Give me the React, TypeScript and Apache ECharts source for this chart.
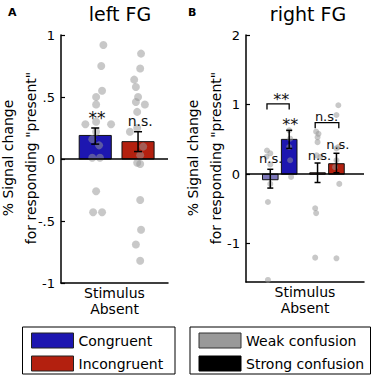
import React, { useEffect, useRef } from "react";
import * as echarts from "echarts";

// ---------- data ----------
// Panel A (left FG): Stimulus Absent, Congruent vs Incongruent
const aCategories = ["Congruent", "Incongruent"];
const aX = [0, 1];
const aMeans = [0.19, 0.14];
const aErrLow = [0.12, 0.06];
const aErrHigh = [0.25, 0.22];
// subject dots: [x jitter, value]
const aCongruentDots = [
  [0.19, 0.92], [0.14, 0.75], [0.16, 0.55], [0.02, 0.5], [0.02, 0.44],
  [-0.23, 0.28], [0.02, 0.3], [0.37, 0.28], [0.02, 0.22], [-0.07, 0.16],
  [0.09, 0.11], [-0.07, 0.01], [0.11, 0.01], [0.02, -0.26], [-0.05, -0.43], [0.16, -0.43],
];
const aIncongruentDots = [
  [0.07, 0.85], [0.05, 0.73], [-0.09, 0.64], [-0.05, 0.58], [0.0, 0.5],
  [-0.05, 0.46], [0.16, 0.44], [-0.02, 0.38], [-0.02, 0.25], [-0.19, 0.22],
  [0.12, 0.1], [0.05, 0.03], [-0.02, -0.03], [0.05, -0.04], [0.05, -0.33],
  [0.07, -0.57], [-0.05, -0.69], [0.05, -0.82],
];
const aAnnotations = [
  { x: 0.04, y: 0.33, text: "**" },
  { x: 1.05, y: 0.31, text: "n.s." },
];

// Panel B (right FG): weak / strong confusion for congruent and incongruent
const bCategories = ["Congruent weak", "Congruent strong", "Incongruent weak", "Incongruent strong"];
const bX = [-0.2, 0.2, 0.8, 1.2];
const bMeans = [-0.08, 0.5, 0.02, 0.15];
const bErrLow = [-0.2, 0.37, -0.12, 0.02];
const bErrHigh = [0.07, 0.63, 0.16, 0.3];
const bDots = [
  [[-0.07, 0.34], [0.0, 0.3], [-0.08, 0.25], [0.0, 0.14], [0.0, -0.14], [-0.05, -0.4], [-0.05, -1.52]],
  [[0.0, 2.01], [0.0, 0.63], [0.02, 0.51], [0.0, 0.39], [0.02, 0.2], [0.04, -0.04]],
  [[-0.03, 0.61], [0.02, 0.58], [0.0, 0.53], [0.0, 0.46], [-0.02, 0.27], [0.06, 0.25], [-0.05, -0.49], [-0.03, -0.56], [-0.05, -1.2]],
  [[0.04, 0.99], [0.0, 0.85], [0.04, 0.39], [0.0, 0.37], [0.0, 0.2], [-0.03, 0.1], [0.06, -0.14], [0.0, -1.21]],
];
const bAnnotations = [
  { x: 0.03, y: 1.07, text: "**" },
  { x: 0.22, y: 0.72, text: "**" },
  { x: -0.19, y: 0.23, text: "n.s." },
  { x: 0.99, y: 0.83, text: "n.s." },
  { x: 0.84, y: 0.27, text: "n.s." },
  { x: 1.23, y: 0.43, text: "n.s." },
];
const bBrackets = [
  { x1: -0.27, x2: 0.2, top: 1.01, leg: 0.93 },
  { x1: 0.75, x2: 1.25, top: 0.74, leg: 0.66 },
];

const yTicksA = [-1, -0.5, 0, 0.5, 1];
const yTicksB = [-1, 0, 1, 2];

const legendLeft = ["Congruent", "Incongruent"];
const legendRight = ["Weak confusion", "Strong confusion"];

// ---------- styles ----------
const FONT = "DejaVu Sans";
const aColors = ["#1d16b0", "#b3200f"];
const bColors = ["#7c77b8", "#1d16b0", "#d4857a", "#b3200f"];
const dotColor = "rgba(150,150,150,0.65)";

const fmt = (v: number) => (v === 0 ? "0" : String(v).replace("0.", "."));

function barSeries(xIdx: number, xs: number[], means: number[], colors: string[], barW: number) {
  return {
    type: "custom",
    xAxisIndex: xIdx,
    yAxisIndex: xIdx,
    z: 2,
    data: xs.map((x, i) => [x, means[i]]),
    renderItem: (params: any, api: any) => {
      const x = api.value(0);
      const m = api.value(1);
      const p0 = api.coord([x, 0]);
      const p1 = api.coord([x, m]);
      const w = api.size([barW, 0])[0];
      return {
        type: "rect",
        shape: { x: p0[0] - w / 2, y: Math.min(p0[1], p1[1]), width: w, height: Math.abs(p1[1] - p0[1]) },
        style: { fill: colors[params.dataIndex], stroke: "#111", lineWidth: 1 },
      };
    },
  };
}

function errSeries(xIdx: number, xs: number[], lo: number[], hi: number[], capPx: number) {
  return {
    type: "custom",
    xAxisIndex: xIdx,
    yAxisIndex: xIdx,
    z: 4,
    data: xs.map((x, i) => [x, lo[i], hi[i]]),
    renderItem: (params: any, api: any) => {
      const x = api.value(0);
      const pl = api.coord([x, api.value(1)]);
      const ph = api.coord([x, api.value(2)]);
      const st = { stroke: "#000", lineWidth: 1.5 };
      return {
        type: "group",
        children: [
          { type: "line", shape: { x1: pl[0], y1: pl[1], x2: ph[0], y2: ph[1] }, style: st },
          { type: "line", shape: { x1: pl[0] - capPx, y1: pl[1], x2: pl[0] + capPx, y2: pl[1] }, style: st },
          { type: "line", shape: { x1: ph[0] - capPx, y1: ph[1], x2: ph[0] + capPx, y2: ph[1] }, style: st },
        ],
      };
    },
  };
}

function dotSeries(xIdx: number, center: number, dots: number[][], size: number, zeroLine: boolean) {
  const s: any = {
    type: "scatter",
    xAxisIndex: xIdx,
    yAxisIndex: xIdx,
    z: 3,
    symbolSize: size,
    itemStyle: { color: dotColor },
    data: dots.map((d) => [center + d[0], d[1]]),
  };
  if (zeroLine) {
    s.markLine = {
      silent: true,
      symbol: "none",
      label: { show: false },
      lineStyle: { color: "#000", width: 1.5, type: "solid" },
      data: [{ yAxis: 0 }],
    };
  }
  return s;
}

function annSeries(xIdx: number, anns: { x: number; y: number; text: string }[], fontSize: number, starSize: number) {
  return {
    type: "custom",
    xAxisIndex: xIdx,
    yAxisIndex: xIdx,
    z: 5,
    data: anns.map((a) => [a.x, a.y]),
    renderItem: (params: any, api: any) => {
      const p = api.coord([api.value(0), api.value(1)]);
      const t = anns[params.dataIndex].text;
      return {
        type: "text",
        x: p[0],
        y: p[1],
        style: {
          text: t,
          align: "center",
          verticalAlign: "middle",
          fontSize: t === "**" ? starSize : fontSize,
          fontFamily: FONT,
          fill: "#111",
        },
      };
    },
  };
}

function bracketSeries(xIdx: number, brs: { x1: number; x2: number; top: number; leg: number }[]) {
  return {
    type: "custom",
    xAxisIndex: xIdx,
    yAxisIndex: xIdx,
    z: 5,
    data: brs.map((b) => [b.x1, b.x2, b.top, b.leg]),
    renderItem: (params: any, api: any) => {
      const x1 = api.value(0), x2 = api.value(1), top = api.value(2), leg = api.value(3);
      return {
        type: "polyline",
        shape: { points: [api.coord([x1, leg]), api.coord([x1, top]), api.coord([x2, top]), api.coord([x2, leg])] },
        style: { stroke: "#000", lineWidth: 1.3, fill: null },
      };
    },
  };
}

function yAxisBase(min: number, max: number) {
  return {
    type: "value",
    min,
    max,
    axisLine: { show: true, onZero: false, lineStyle: { color: "#000", width: 1.5 } },
    axisTick: { show: true, inside: true, length: 4, lineStyle: { color: "#000", width: 1.2 } },
    axisLabel: { color: "#000", fontSize: 13, fontFamily: FONT, margin: 6, formatter: fmt },
    splitLine: { show: false },
  };
}

function xAxisBase(gridIndex: number, min: number, max: number) {
  return {
    type: "value",
    gridIndex,
    min,
    max,
    name: "Stimulus\nAbsent",
    nameLocation: "middle",
    nameGap: 2,
    nameTextStyle: { color: "#000", fontSize: 14, lineHeight: 16, fontFamily: FONT, verticalAlign: "top" },
    axisLine: { show: true, onZero: false, lineStyle: { color: "#000", width: 1.5 } },
    axisTick: { show: false },
    axisLabel: { show: false },
    splitLine: { show: false },
  };
}

function legendBox(x: number, y: number, w: number, h: number, labels: string[], colors: string[], strokes: string[]) {
  const children: any[] = [
    { type: "rect", shape: { x, y, width: w, height: h }, style: { fill: "#fff", stroke: "#000", lineWidth: 1 } },
  ];
  labels.forEach((lab, i) => {
    const sy = y + 6 + i * 23;
    children.push({
      type: "rect",
      shape: { x: x + 9, y: sy, width: 42, height: 15 },
      style: { fill: colors[i], stroke: strokes[i], lineWidth: 1 },
    });
    children.push({
      type: "text",
      x: x + 56,
      y: sy + 7.5,
      style: { text: lab, fontSize: 14, fontFamily: FONT, fill: "#000", verticalAlign: "middle", align: "left" },
    });
  });
  return { type: "group", children };
}

export default function App() {
  const ref = useRef<HTMLDivElement>(null);
  useEffect(() => {
    if (!ref.current) return;
    const chart = echarts.init(ref.current, null, { renderer: "svg" });
    const yA: any = { ...yAxisBase(-1, 1), gridIndex: 0, interval: 0.5 };
    const yB: any = {
      ...yAxisBase(-1.55, 2),
      gridIndex: 1,
      axisTick: { show: true, inside: true, length: 4, lineStyle: { color: "#000", width: 1.2 }, customValues: yTicksB },
      axisLabel: { color: "#000", fontSize: 13, fontFamily: FONT, margin: 6, formatter: fmt, customValues: yTicksB },
    };
    const option: any = {
      animation: false,
      backgroundColor: "#fff",
      textStyle: { fontFamily: FONT },
      grid: [
        { left: 61, top: 35, width: 107, height: 248, outerBoundsMode: "none" },
        { left: 246, top: 35, width: 118, height: 247, outerBoundsMode: "none" },
      ],
      xAxis: [xAxisBase(0, -0.8, 1.7), xAxisBase(1, -0.714, 1.783)],
      yAxis: [yA, yB],
      series: [
        barSeries(0, aX, aMeans, aColors, 0.75),
        dotSeries(0, aX[0], aCongruentDots, 8, true),
        dotSeries(0, aX[1], aIncongruentDots, 8, false),
        errSeries(0, aX, aErrLow, aErrHigh, 4),
        annSeries(0, aAnnotations, 14, 17),
        barSeries(1, bX, bMeans, bColors, 0.33),
        dotSeries(1, bX[0], bDots[0], 6, true),
        dotSeries(1, bX[1], bDots[1], 6, false),
        dotSeries(1, bX[2], bDots[2], 6, false),
        dotSeries(1, bX[3], bDots[3], 6, false),
        errSeries(1, bX, bErrLow, bErrHigh, 3),
        bracketSeries(1, bBrackets),
        annSeries(1, bAnnotations, 13, 16),
      ],
      graphic: [
        { type: "text", x: 8, y: 12, style: { text: "A", fontSize: 11, fontWeight: "bold", fontFamily: FONT, fill: "#000", verticalAlign: "middle" } },
        { type: "text", x: 188, y: 12, style: { text: "B", fontSize: 11, fontWeight: "bold", fontFamily: FONT, fill: "#000", verticalAlign: "middle" } },
        { type: "text", x: 120, y: 14, style: { text: "left FG", fontSize: 19, fontFamily: FONT, fill: "#000", align: "center", verticalAlign: "middle" } },
        { type: "text", x: 308, y: 14, style: { text: "right FG", fontSize: 19, fontFamily: FONT, fill: "#000", align: "center", verticalAlign: "middle" } },
        { type: "text", x: 8, y: 158, rotation: Math.PI / 2, style: { text: "% Signal change", fontSize: 14, fontFamily: FONT, fill: "#000", align: "center", verticalAlign: "middle" } },
        { type: "text", x: 31, y: 158, rotation: Math.PI / 2, style: { text: 'for responding "present"', fontSize: 14, fontFamily: FONT, fill: "#000", align: "center", verticalAlign: "middle" } },
        { type: "text", x: 192.5, y: 158, rotation: Math.PI / 2, style: { text: "% Signal change", fontSize: 14, fontFamily: FONT, fill: "#000", align: "center", verticalAlign: "middle" } },
        { type: "text", x: 216, y: 158, rotation: Math.PI / 2, style: { text: 'for responding "present"', fontSize: 14, fontFamily: FONT, fill: "#000", align: "center", verticalAlign: "middle" } },
        legendBox(22.5, 327, 152.5, 47, legendLeft, aColors, ["#222", "#222"]),
        legendBox(190, 327, 180.5, 47, legendRight, ["#999999", "#000000"], ["#333", "#000"]),
      ],
    };
    chart.setOption(option);
    return () => chart.dispose();
  }, []);
  return (
    <div
      ref={ref}
      style={{ position: "fixed", left: 0, top: 0, width: 374, height: 377, background: "#fff" }}
    />
  );
}
